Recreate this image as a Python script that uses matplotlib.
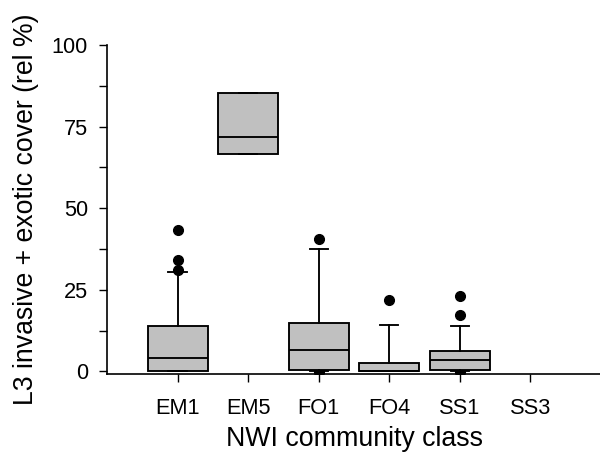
import matplotlib
matplotlib.use("Agg")
import matplotlib.pyplot as plt
from matplotlib.ticker import MultipleLocator

plt.rcParams["font.family"] = ["Liberation Sans", "DejaVu Sans"]

# NWI community classes and box-plot summaries of relative cover (%)
classes = ["EM1", "EM5", "FO1", "FO4", "SS1", "SS3"]
lower_whisker = [0.0, 66.5, 0.0, 0.0, 0.0, None]
q1 = [0.1, 66.5, 0.6, 0.1, 0.4, None]
median = [4.1, 71.7, 6.7, 0.2, 3.5, None]
q3 = [14.0, 85.2, 15.0, 2.5, 6.3, None]
upper_whisker = [30.4, 85.2, 37.6, 14.3, 14.0, None]
outliers = [[31.1, 34.1, 43.2], [], [40.5, -0.2], [22.0], [17.2, 23.2, -0.3], []]

stats = []
positions = []
for i, name in enumerate(classes):
    if median[i] is None:
        continue
    stats.append(dict(label=name, whislo=lower_whisker[i], q1=q1[i], med=median[i],
                      q3=q3[i], whishi=upper_whisker[i], fliers=outliers[i]))
    positions.append(i + 1)

fig = plt.figure(figsize=(6.0, 4.58), dpi=100)
ax = fig.add_axes([107 / 600, 1 - 374.3 / 458, 494 / 600, (374.3 - 45) / 458])

lw = 1.35
art = ax.bxp(stats, positions=positions, widths=0.85, patch_artist=True,
             showcaps=True, capwidths=0.26,
             boxprops=dict(facecolor="#c0c0c0", edgecolor="black", linewidth=lw),
             medianprops=dict(color="black", linewidth=lw),
             whiskerprops=dict(color="black", linewidth=lw),
             capprops=dict(color="black", linewidth=lw),
             flierprops=dict(marker="o", markerfacecolor="black",
                             markeredgecolor="black", markersize=7, linestyle="none"))
for f in art["fliers"]:
    f.set_zorder(1.5)
for b in art["boxes"]:
    b.set_zorder(2)
for m in art["medians"]:
    m.set_zorder(2.1)

ax.set_xlim(0, 7)
ax.set_ylim(-0.86, 100)
ax.set_xticks(range(1, len(classes) + 1))
ax.set_xticklabels(classes)
ax.yaxis.set_major_locator(MultipleLocator(25))
ax.yaxis.set_minor_locator(MultipleLocator(12.5))

for side in ("top", "right"):
    ax.spines[side].set_visible(False)
for side in ("left", "bottom"):
    ax.spines[side].set_linewidth(1.2)

ax.tick_params(axis="both", which="both", direction="out", length=5.8, width=1.0,
               labelsize=15.7)
ax.tick_params(axis="y", which="minor", labelleft=False)
ax.tick_params(axis="x", pad=11)
ax.tick_params(axis="y", pad=8)

ax.set_xlabel("NWI community class", fontsize=19.3, labelpad=5)
ax.set_ylabel("L3 invasive + exotic cover (rel %)", fontsize=19.2, labelpad=9)

fig.savefig("out.png", dpi=100)
